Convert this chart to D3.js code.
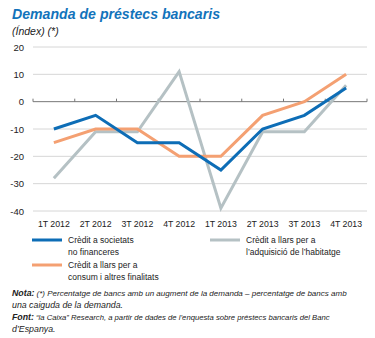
<!DOCTYPE html>
<html>
<head>
<meta charset="utf-8">
<script src="https://d3js.org/d3.v7.min.js"></script>
<style>
  html, body { margin:0; padding:0; background:#fff; }
  svg { display:block; font-family: "Liberation Sans Narrow", "Liberation Sans", Arial, sans-serif; }
</style>
</head>
<body>
<svg width="375" height="338"></svg>
<script>
const categories = ["1T 2012","2T 2012","3T 2012","4T 2012","1T 2013","2T 2013","3T 2013","4T 2013"];
const societats = [-10, -5, -15, -15, -25, -10, -5, 5];
const habitatge = [-28, -11, -11, 11, -39, -11, -11, 6];
const consum = [-15, -10, -10, -20, -20, -5, 0, 10];
const yTicks = [20, 10, 0, -10, -20, -30, -40];

const series = [
  { name: "habitatge", values: habitatge, color: "#b5c1c4" },
  { name: "consum", values: consum, color: "#f4a072" },
  { name: "societats", values: societats, color: "#0d6db6" }
];

const svg = d3.select("svg");

svg.append("text").attr("x", 12).attr("y", 19)
  .attr("font-size", 15).attr("font-weight", "bold").attr("font-style", "italic")
  .attr("fill", "#1273bb").attr("textLength", 208).attr("lengthAdjust", "spacingAndGlyphs")
  .text("Demanda de préstecs bancaris");
svg.append("text").attr("x", 12).attr("y", 35)
  .attr("font-size", 10.5).attr("font-style", "italic").attr("fill", "#222")
  .text("(Índex) (*)");

const x = d3.scaleBand().domain(categories).range([33, 367]);
const y = d3.scaleLinear().domain([-40, 20]).range([211, 47]);

// gridlines
svg.append("g").selectAll("line").data(yTicks.filter(d => d !== 0)).join("line")
  .attr("x1", 33).attr("x2", 367)
  .attr("y1", d => y(d)).attr("y2", d => y(d))
  .attr("stroke", "#d6d6d6").attr("stroke-width", 1);

// y labels
svg.append("g").selectAll("text").data(yTicks).join("text")
  .attr("x", 24).attr("y", d => y(d) + 3.5)
  .attr("text-anchor", "end").attr("font-size", 9.5).attr("fill", "#222")
  .text(d => d);

// zero axis with ticks
const zero = svg.append("g").attr("transform", `translate(0,${y(0)})`)
  .call(d3.axisBottom(x).tickSize(0).tickFormat(""));
zero.select(".domain").attr("stroke", "#777").attr("d", "M33,0H367");
zero.selectAll(".tick").remove();
zero.selectAll(".sep").data(d3.range(categories.length + 1)).join("line")
  .attr("x1", i => 33 + i * x.step()).attr("x2", i => 33 + i * x.step())
  .attr("y1", -3).attr("y2", 0).attr("stroke", "#777");

// x labels
svg.append("g").selectAll("text").data(categories).join("text")
  .attr("x", d => x(d) + x.bandwidth() / 2).attr("y", 227)
  .attr("text-anchor", "middle").attr("font-size", 9.5).attr("fill", "#222")
  .attr("textLength", 32).attr("lengthAdjust", "spacingAndGlyphs")
  .text(d => d);

const line = d3.line()
  .x((d, i) => x(categories[i]) + x.bandwidth() / 2)
  .y(d => y(d));

svg.append("g").selectAll("path").data(series).join("path")
  .attr("d", d => line(d.values))
  .attr("fill", "none").attr("stroke", d => d.color)
  .attr("stroke-width", 3).attr("stroke-linejoin", "miter");

// legend
const legend = [
  { color: "#0d6db6", lx: 32, ly: 240, lines: ["Crèdit a societats", "no financeres"] },
  { color: "#b5c1c4", lx: 210, ly: 240, lines: ["Crèdit a llars per a", "l’adquisició de l’habitatge"] },
  { color: "#f4a072", lx: 32, ly: 265, lines: ["Crèdit a llars per a", "consum i altres finalitats"] }
];
const lg = svg.append("g").selectAll("g").data(legend).join("g");
lg.append("line")
  .attr("x1", d => d.lx).attr("x2", d => d.lx + 30)
  .attr("y1", d => d.ly).attr("y2", d => d.ly)
  .attr("stroke", d => d.color).attr("stroke-width", 3);
lg.each(function(d) {
  d3.select(this).selectAll("text.l").data(d.lines).join("text")
    .attr("x", d.lx + 36).attr("y", (t, i) => d.ly + 3 + i * 12)
    .attr("font-size", 8.5).attr("fill", "#222").text(t => t);
});

// notes: bold label + italic text, placed side by side
const noteSize = 8.8;
const notes = svg.append("g").attr("font-size", noteSize).attr("font-style", "italic").attr("fill", "#222");
function noteLine(label, rest, yPos, endX) {
  let x0 = 12;
  if (label) {
    const b = notes.append("text").attr("x", 12).attr("y", yPos)
      .attr("font-weight", "bold").text(label);
    x0 = 12 + b.node().getComputedTextLength() + 2;
  }
  const t = notes.append("text").attr("x", x0).attr("y", yPos).text(rest);
  if (endX) {
    const w = t.node().getComputedTextLength();
    t.attr("font-size", noteSize * (endX - x0) / w);
  }
}
noteLine("Nota:", "(*) Percentatge de bancs amb un augment de la demanda – percentatge de bancs amb", 296, 347);
noteLine(null, "una caiguda de la demanda.", 308);
noteLine("Font:", "“la Caixa” Research, a partir de dades de l’enquesta sobre préstecs bancaris del Banc", 320, 330);
noteLine(null, "d’Espanya.", 332);
</script>
</body>
</html>
